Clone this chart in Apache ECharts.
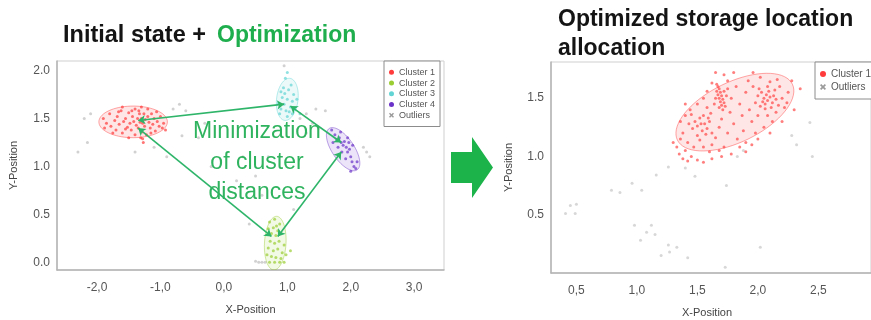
<!DOCTYPE html>
<html>
<head>
<meta charset="utf-8">
<script src="https://cdn.jsdelivr.net/npm/echarts@6/dist/echarts.min.js"></script>
<style>
  html, body { margin: 0; padding: 0; background: #ffffff; }
  #chart { width: 871px; height: 320px; }
</style>
</head>
<body>
<div id="chart"></div>
<script>
// ---------- Initial state: four clusters ----------
const cluster1 = [
  [-1.9,1.5],[-1.85,1.45],[-1.8,1.55],[-1.78,1.42],[-1.72,1.48],[-1.7,1.38],[-1.68,1.52],[-1.65,1.44],
  [-1.62,1.58],[-1.6,1.35],[-1.58,1.47],[-1.55,1.5],[-1.52,1.41],[-1.5,1.56],[-1.48,1.45],[-1.46,1.38],
  [-1.44,1.52],[-1.42,1.47],[-1.4,1.6],[-1.38,1.43],[-1.36,1.5],[-1.35,1.4],[-1.33,1.55],[-1.32,1.46],
  [-1.31,1.3],[-1.3,1.62],[-1.3,1.5],[-1.29,1.36],[-1.28,1.45],[-1.27,1.25],[-1.26,1.55],[-1.25,1.42],
  [-1.24,1.49],[-1.22,1.33],[-1.2,1.52],[-1.18,1.46],[-1.16,1.4],[-1.14,1.55],[-1.12,1.44],[-1.1,1.5],
  [-1.08,1.37],[-1.05,1.47],[-1.02,1.42],[-1.0,1.52],[-0.97,1.4],[-0.95,1.45],[-0.92,1.38],[-1.88,1.4],
  [-1.75,1.35],[-1.6,1.62],[-1.5,1.3],[-1.45,1.58],[-1.34,1.58],[-1.28,1.29],[-1.15,1.35],[-1.06,1.57],
  [-1.2,1.6],[-1.4,1.33],[-1.55,1.39],[-1.66,1.57]
];
const cluster2 = [
  [0.72,0.42],[0.8,0.45],[0.88,0.4],[0.7,0.35],[0.78,0.36],[0.85,0.33],[0.75,0.3],[0.82,0.28],
  [0.9,0.3],[0.73,0.22],[0.8,0.2],[0.87,0.22],[0.95,0.18],[0.7,0.15],[0.78,0.12],[0.85,0.14],
  [0.92,0.1],[0.75,0.06],[0.82,0.05],[0.9,0.04],[0.72,0.0],[0.8,0.0],[0.88,0.0],[0.95,0.0],
  [0.68,0.08],[0.98,0.08],[0.83,0.38],[1.05,0.12]
];
const cluster3 = [
  [0.9,1.6],[0.95,1.65],[1.0,1.7],[1.05,1.62],[0.92,1.72],[0.98,1.58],[1.08,1.68],[1.1,1.75],
  [0.88,1.55],[1.02,1.8],[0.96,1.76],[1.12,1.6],[1.0,1.52],[0.86,1.66],[1.06,1.85],[0.94,1.82],
  [1.15,1.7],[1.03,1.57],[0.9,1.78],[1.08,1.55],[0.97,1.92],[1.0,1.98],[1.2,1.55]
];
const cluster4 = [
  [1.7,1.38],[1.75,1.33],[1.78,1.28],[1.82,1.3],[1.85,1.25],[1.88,1.22],[1.9,1.26],[1.93,1.2],
  [1.95,1.15],[1.98,1.18],[2.0,1.1],[2.02,1.05],[2.05,1.0],[2.08,0.98],[1.8,1.2],[1.86,1.15],
  [1.92,1.08],[1.97,1.25],[2.03,1.22],[2.1,1.05],[1.72,1.25],[2.0,0.95],[1.84,1.36],[1.95,1.3]
];
const outliersInitial = [
  [-2.3,1.15],[-2.2,1.5],[-2.15,1.25],[-2.1,1.55],[-0.8,1.6],[-0.7,1.65],[-0.6,1.58],[-0.66,1.32],
  [-1.1,1.2],[-1.4,1.15],[-0.9,1.1],[-0.4,1.3],[-0.3,1.45],[0.95,2.05],[1.2,1.5],[1.3,1.55],
  [1.4,1.45],[1.45,1.6],[1.6,1.58],[1.5,1.4],[1.3,1.35],[2.2,1.2],[2.25,1.15],[2.3,1.1],
  [0.5,0.9],[0.6,0.7],[0.2,0.85],[0.3,1.1],[-0.2,1.0],[0.7,1.1],[1.1,0.55],[0.4,0.4],
  [0.55,0.0],[0.6,0.0],[0.5,0.01],[0.65,0.0]
];
// confidence ellipses: centre x, centre y, major axis vector (x, y), minor axis vector (x, y)
const ellipsesInitial = [
  [-1.43, 1.465, 0.54, 0, 0, 0.165],
  [0.81, 0.2, 0.02, 0.28, 0.17, 0],
  [1.0, 1.7, 0.03, 0.22, 0.17, 0],
  [1.88, 1.18, 0.22, -0.216, 0.145, 0.063]
];
// double-headed links between cluster centres: x1, y1, x2, y2
const clusterLinks = [
  [-1.35, 1.48, 0.95, 1.65],
  [1.05, 1.63, 1.85, 1.25],
  [1.85, 1.15, 0.85, 0.27],
  [0.75, 0.27, -1.35, 1.4]
];
const legendInitial = ['Cluster 1', 'Cluster 2', 'Cluster 3', 'Cluster 4', 'Outliers'];

// ---------- Optimized allocation: one cluster ----------
const clusterOptimized = [
  [1.66,1.62],[1.67,1.6],[1.68,1.58],[1.66,1.56],[1.69,1.55],[1.67,1.53],[1.7,1.52],[1.68,1.5],
  [1.71,1.49],[1.69,1.47],[1.72,1.46],[1.7,1.44],[1.73,1.43],[1.68,1.42],[1.71,1.4],[1.74,1.52],
  [1.65,1.5],[1.75,1.58],[1.64,1.45],[1.72,1.56],
  [2.0,1.52],[2.03,1.55],[2.05,1.5],[2.07,1.53],[2.08,1.48],[2.1,1.51],[2.12,1.46],[2.06,1.45],
  [2.04,1.47],[2.09,1.56],[2.13,1.52],[2.02,1.43],[2.11,1.42],[2.15,1.49],[2.01,1.58],[2.08,1.6],
  [2.14,1.57],[2.17,1.44],[1.98,1.46],[2.06,1.41],
  [1.48,1.3],[1.5,1.26],[1.52,1.33],[1.54,1.22],[1.56,1.28],[1.58,1.24],[1.55,1.35],[1.6,1.3],
  [1.62,1.2],[1.5,1.18],[1.46,1.24],[1.53,1.28],[1.57,1.19],[1.45,1.36],[1.61,1.37],[1.52,1.14],
  [1.43,1.28],[1.59,1.33],
  [1.38,1.2],[1.4,1.35],[1.42,1.12],[1.36,1.3],[1.44,1.4],[1.47,1.08],[1.5,1.45],[1.55,1.5],
  [1.58,1.42],[1.62,1.1],[1.65,1.16],[1.68,1.25],[1.7,1.32],[1.72,1.08],[1.75,1.2],[1.77,1.38],
  [1.8,1.28],[1.78,1.5],[1.82,1.6],[1.85,1.45],[1.83,1.15],[1.87,1.35],[1.9,1.55],[1.88,1.22],
  [1.92,1.65],[1.93,1.4],[1.95,1.3],[1.96,1.6],[1.9,1.12],[1.98,1.2],[2.0,1.35],[2.02,1.68],
  [2.05,1.25],[2.08,1.35],[2.1,1.64],[2.12,1.3],[2.15,1.38],[2.18,1.6],[2.2,1.5],[2.22,1.42],
  [2.2,1.3],[2.25,1.55],[2.24,1.46],[2.16,1.66],[1.96,1.72],[1.75,1.65],[1.72,1.7],[1.8,1.72],
  [1.62,1.63],[1.58,1.56],[1.85,1.08],[1.95,1.1],[2.0,1.15],[1.68,1.05],[1.6,1.04],[1.55,1.08],
  [1.4,1.05],[1.36,1.15],
  [1.33,1.08],[1.35,1.02],[1.38,0.98],[1.42,0.96],[1.45,1.0],[1.5,0.97],[1.3,1.12],[1.55,0.95],
  [1.62,0.98],[1.7,1.0],[1.78,1.02],[1.9,1.04],[2.1,1.2],[2.3,1.4],[2.35,1.58],[2.28,1.65],
  [1.65,1.72],[1.4,1.45]
];
const outliersOptimized = [
  [0.41,0.51],[0.45,0.58],[0.5,0.59],[0.49,0.51],[0.79,0.71],[0.86,0.69],[0.96,0.77],[1.04,0.71],
  [0.98,0.41],[1.12,0.41],[1.03,0.28],[1.08,0.35],[1.15,0.33],[1.2,0.15],[1.27,0.18],[1.33,0.22],
  [1.16,0.84],[1.26,0.91],[1.4,0.9],[1.48,0.83],[1.74,0.75],[1.83,1.0],[1.88,1.05],[2.32,1.1],
  [2.45,1.0],[2.43,1.29],[2.28,1.18],[1.42,0.13],[1.73,0.05],[2.02,0.22],[1.26,0.24]
];
const ellipseOptimized = [[1.81, 1.38, 0.475, 0.24, -0.109, 0.231]];
const legendOptimized = ['Cluster 1', 'Outliers'];

// ---------- styling ----------
const FONT = "'Liberation Sans', Arial, sans-serif";
const clusterColors = ['#ff3b3b', '#9acd32', '#62d4d4', '#6a32c8'];
const outlierColor = '#9a9a9a';
const linkGreen = '#2fb56a';
const crossIcon = 'path://M2,0L5,3L8,0L10,2L7,5L10,8L8,10L5,7L2,10L0,8L3,5L0,2Z';

function hexA(hex, a) {
  const n = parseInt(hex.slice(1), 16);
  return 'rgba(' + (n >> 16) + ',' + ((n >> 8) & 255) + ',' + (n & 255) + ',' + a + ')';
}

function ellipseRenderer(colors) {
  return function (params, api) {
    const cx = api.value(0), cy = api.value(1);
    const ux = api.value(2), uy = api.value(3), vx = api.value(4), vy = api.value(5);
    const pts = [];
    for (let k = 0; k <= 72; k++) {
      const t = k / 72 * Math.PI * 2;
      pts.push(api.coord([cx + ux * Math.cos(t) + vx * Math.sin(t), cy + uy * Math.cos(t) + vy * Math.sin(t)]));
    }
    const c = colors[params.dataIndex];
    return {
      type: 'polygon',
      shape: { points: pts },
      style: { fill: hexA(c, 0.13), stroke: hexA(c, 0.45), lineWidth: 1 }
    };
  };
}

function scatter(name, data, color, xi, size, opacity) {
  return {
    type: 'scatter', name: name, data: data,
    xAxisIndex: xi, yAxisIndex: xi,
    symbolSize: size,
    itemStyle: { color: color, opacity: opacity },
    emphasis: { disabled: true },
    z: 4
  };
}

function valueAxis(gi, min, max, split, fmt, name, gap, showName, margin) {
  return {
    type: 'value', gridIndex: gi, min: min, max: max, splitNumber: split,
    name: showName ? name : '', nameLocation: 'middle', nameGap: gap,
    nameTextStyle: { fontFamily: FONT, fontSize: 11, color: '#444' },
    axisLine: { show: true, onZero: false, lineStyle: { color: '#b4b4b4', width: 1.5 } },
    axisTick: { show: false },
    splitLine: { show: false },
    axisLabel: {
      fontFamily: FONT, fontSize: 12, color: '#555', margin: margin,
      showMinLabel: false, showMaxLabel: false,
      formatter: v => fmt(v)
    }
  };
}
const withComma = v => v.toFixed(1).replace('.', ',');
const withDot = v => v.toFixed(1);

const chart = echarts.init(document.getElementById('chart'), null, { renderer: 'canvas' });

const option = {
  animation: false,
  backgroundColor: '#ffffff',
  grid: [
    { left: 57, top: 61, width: 387, height: 212, show: true, borderColor: '#cfcfcf', borderWidth: 1, backgroundColor: '#ffffff' },
    { left: 551, top: 62, width: 320, height: 211, show: true, borderColor: '#cfcfcf', borderWidth: 1, backgroundColor: '#ffffff' }
  ],
  xAxis: [
    valueAxis(0, -2.63, 3.47, 6, withComma, 'X-Position', 34, true, 12),
    valueAxis(1, 0.29, 2.935, 5, withComma, 'X-Position', 34, false, 12)
  ],
  yAxis: [
    valueAxis(0, -0.08, 2.1, 4, withDot, 'Y-Position', 38, true, 7),
    valueAxis(1, 0, 1.81, 4, withDot, 'Y-Position', 37, true, 7)
  ],
  legend: [
    {
      data: legendInitial.map((n, i) => ({ name: n, icon: i < 4 ? 'circle' : crossIcon })),
      orient: 'vertical', left: 384, top: 61,
      itemWidth: 5, itemHeight: 5, itemGap: 0,
      padding: [6, 5, 6, 5],
      backgroundColor: '#ffffff', borderColor: '#8c8c8c', borderWidth: 1, borderRadius: 0,
      itemStyle: { opacity: 1 },
      textStyle: { fontFamily: FONT, fontSize: 9, color: '#555', lineHeight: 10.7 },
      selectedMode: false
    },
    {
      data: legendOptimized.map((n, i) => ({ name: n, icon: i < 1 ? 'circle' : crossIcon })),
      orient: 'vertical', left: 815, top: 62,
      itemWidth: 6, itemHeight: 6, itemGap: 0,
      padding: [5.5, 8, 5.5, 5],
      backgroundColor: '#ffffff', borderColor: '#8c8c8c', borderWidth: 1, borderRadius: 0,
      itemStyle: { opacity: 1 },
      textStyle: { fontFamily: FONT, fontSize: 10, color: '#555', lineHeight: 13 },
      selectedMode: false
    }
  ],
  series: [
    {
      type: 'custom', name: 'ellipses-initial', xAxisIndex: 0, yAxisIndex: 0,
      data: ellipsesInitial, encode: { x: 0, y: 1 },
      renderItem: ellipseRenderer(clusterColors), clip: true, z: 2, silent: true
    },
    scatter('Outliers', outliersInitial, outlierColor, 0, 3, 0.45),
    scatter('Cluster 1', cluster1, clusterColors[0], 0, 3, 0.7),
    scatter('Cluster 2', cluster2, clusterColors[1], 0, 3, 0.7),
    scatter('Cluster 3', cluster3, clusterColors[2], 0, 3, 0.7),
    scatter('Cluster 4', cluster4, clusterColors[3], 0, 3, 0.7),
    {
      type: 'lines', name: 'links', coordinateSystem: 'cartesian2d', xAxisIndex: 0, yAxisIndex: 0,
      data: clusterLinks.map(l => ({ coords: [[l[0], l[1]], [l[2], l[3]]] })),
      symbol: ['arrow', 'arrow'], symbolSize: 7,
      lineStyle: { color: linkGreen, width: 1.6, opacity: 1, curveness: 0 },
      z: 6, silent: true
    },
    {
      type: 'custom', name: 'ellipse-optimized', xAxisIndex: 1, yAxisIndex: 1,
      data: ellipseOptimized, encode: { x: 0, y: 1 },
      renderItem: ellipseRenderer([clusterColors[0]]), clip: true, z: 2, silent: true
    },
    scatter('Outliers', outliersOptimized, outlierColor, 1, 3, 0.4),
    scatter('Cluster 1', clusterOptimized, clusterColors[0], 1, 3, 0.65)
  ],
  graphic: [
    { type: 'text', left: 63, top: 24, style: { text: 'Initial state +', font: 'bold 23.5px ' + FONT, fill: '#141414' } },
    { type: 'text', left: 217, top: 24, style: { text: 'Optimization', font: 'bold 23px ' + FONT, fill: '#1fae4e' } },
    { type: 'text', left: 558, top: 8, style: { text: 'Optimized storage location', font: 'bold 23px ' + FONT, fill: '#141414' } },
    { type: 'text', left: 558, top: 37, style: { text: 'allocation', font: 'bold 23px ' + FONT, fill: '#141414' } },
    { type: 'text', x: 257, y: 132, z: 10, style: { text: 'Minimization', font: '23px ' + FONT, fill: '#2fb35e', align: 'center', verticalAlign: 'middle' } },
    { type: 'text', x: 257, y: 163, z: 10, style: { text: 'of cluster', font: '23px ' + FONT, fill: '#2fb35e', align: 'center', verticalAlign: 'middle' } },
    { type: 'text', x: 257, y: 193, z: 10, style: { text: 'distances', font: '23px ' + FONT, fill: '#2fb35e', align: 'center', verticalAlign: 'middle' } },
    { type: 'text', x: 707, y: 313, style: { text: 'X-Position', font: '11px ' + FONT, fill: '#444', align: 'center', verticalAlign: 'middle' } },
    {
      type: 'polygon', z: 10,
      shape: { points: [[451,152],[472,152],[472,137],[493,167.5],[472,198],[472,183],[451,183]] },
      style: { fill: '#1db34b' }
    }
  ]
};
chart.setOption(option);
</script>
</body>
</html>
